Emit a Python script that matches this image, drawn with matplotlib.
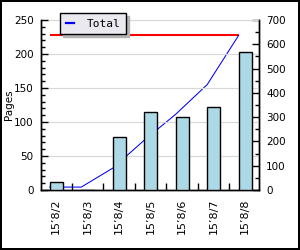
import matplotlib
matplotlib.use("Agg")
import numpy as np
from matplotlib import pyplot
from matplotlib.lines import Line2D

dates = ["15’8/2", "15’8/3", "15’8/4", "15’8/5", "15’8/6", "15’8/7", "15’8/8"]
pages = [12, 0, 78, 115, 107, 122, 203]
total_label = "Total"

if __name__ == '__main__':
    idx = np.arange(len(dates))
    cumulative = np.cumsum(pages)
    total = [cumulative[-1]] * len(dates)
    bar_w = 0.41

    fig = pyplot.figure(figsize=(3, 2.5), dpi=100, facecolor='w', edgecolor='black', linewidth=1.5)
    # 左軸: 棒 (Pages), 右軸: 累計
    ax = fig.add_axes([40.5 / 300, 60 / 250, 218.5 / 300, 170 / 250])
    ax2 = ax.twinx()
    ax.set_zorder(ax2.get_zorder() + 1)
    ax.patch.set_visible(False)

    ax2.plot(idx - bar_w / 2, total, color='red', lw=1.5, solid_capstyle='butt')
    ax2.plot(idx - bar_w / 2, cumulative, color='blue', lw=0.75)
    ax.bar(idx, pages, width=bar_w, color='#add8e6', edgecolor='black', linewidth=1.0, zorder=3)

    ax.set_xlim(-0.5, 6.44)
    ax.set_ylim(0, 250)
    ax2.set_ylim(0, 700)

    ax.set_yticks(range(0, 251, 50))
    ax.yaxis.set_minor_locator(matplotlib.ticker.MultipleLocator(10))
    ax2.set_yticks(range(0, 701, 100))
    ax2.yaxis.set_minor_locator(matplotlib.ticker.MultipleLocator(50))
    ax.set_xticks(idx)
    ax.set_xticklabels(dates, rotation=90, fontsize=8, family='DejaVu Sans')
    ax.set_xticks(idx[:-1] + 0.5, minor=True)

    ax.tick_params(axis='x', which='major', length=0, pad=6)
    ax.tick_params(axis='x', which='minor', direction='in', length=5, width=1)
    for a in (ax, ax2):
        a.tick_params(axis='y', which='major', direction='in', length=5, width=1, pad=5, labelsize=7.5)
        a.tick_params(axis='y', which='minor', direction='in', length=3, width=1)
        a.spines['top'].set_visible(False)
        for s in ('left', 'right', 'bottom'):
            a.spines[s].set_linewidth(1.0)

    ax.grid(axis='y', which='major', color='#d8d8d8', lw=0.8, zorder=0)
    ax.axhline(250, color='#d8d8d8', lw=0.8, zorder=0, clip_on=False)
    ax.set_axisbelow(True)
    ax.set_ylabel("Pages", fontsize=7.5)
    ax.yaxis.set_label_coords(14 / 300, 1 - 105 / 250, transform=fig.transFigure)

    handle = Line2D([], [], color='blue', lw=1.6)
    ax.legend([handle], [total_label], loc='upper left', bbox_to_anchor=(60 / 300, 1 - 13 / 250),
              bbox_transform=fig.transFigure, borderaxespad=0, fancybox=False, framealpha=1,
              facecolor='#ebe9f0', edgecolor='black', handlelength=0.8, handletextpad=1.1,
              borderpad=0.5, prop={'family': 'DejaVu Sans Mono', 'size': 8},
              shadow={'color': '#b4b4b4', 'alpha': 1})
    ax.get_legend().get_frame().set_linewidth(1.0)

    pyplot.savefig("out.png", dpi=100)
